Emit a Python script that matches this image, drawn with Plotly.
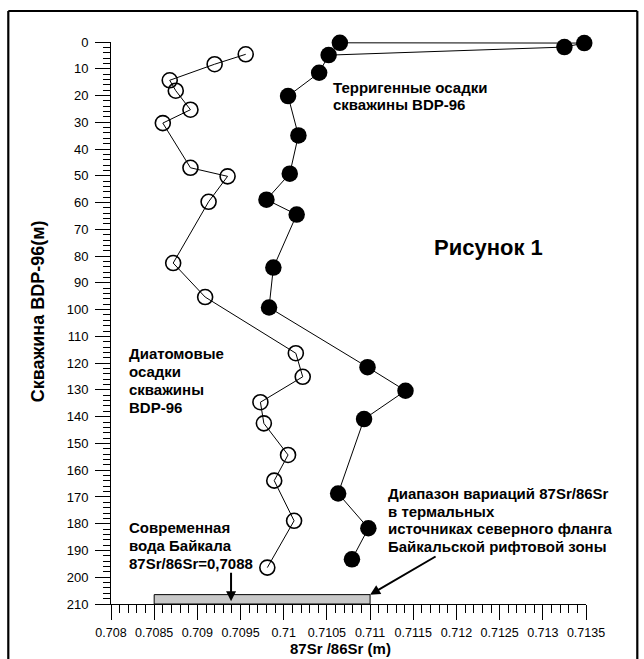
import plotly.graph_objects as go

# ---- data ----
diatom_sr = [0.70956, 0.70920, 0.70868, 0.70875, 0.70892, 0.70860, 0.70892, 0.70935,
             0.70913, 0.70872, 0.70909, 0.71014, 0.71022, 0.70973, 0.70977, 0.71005,
             0.70989, 0.71012, 0.70981]
diatom_depth = [4.6, 8.3, 14.3, 18.2, 25.3, 30.3, 47.0, 50.2, 59.7, 82.6, 95.3,
                116.3, 125.1, 134.6, 142.5, 154.3, 163.9, 178.9, 196.4]

terr_sr = [0.71065, 0.71348, 0.71325, 0.71052, 0.71041, 0.71005, 0.71017, 0.71007,
           0.70980, 0.71015, 0.70988, 0.70983, 0.71097, 0.71141, 0.71093, 0.71063,
           0.71098, 0.71079]
terr_depth = [0.3, 0.4, 1.9, 4.9, 11.5, 20.2, 34.9, 49.2, 58.9, 64.5, 84.3, 99.2,
              121.5, 130.3, 140.9, 168.7, 181.7, 193.3]

thermal_range = [0.7085, 0.711]
thermal_depth = [206.5, 210]
baikal_arrow_sr = 0.70939

x_tickvals = [0.708, 0.7085, 0.709, 0.7095, 0.71, 0.7105, 0.711, 0.7115, 0.712,
              0.7125, 0.713, 0.7135]
x_ticktext = ["0.708", "0.7085", "0.709", "0.7095", "0.71", "0.7105", "0.711",
              "0.7115", "0.712", "0.7125", "0.713", "0.7135"]
y_tickvals = list(range(0, 211, 10))

# ---- layout geometry (pixels) ----
W_FIG, H_FIG = 644, 659
L, R, T, B = 110.7, 58.3, 42, 55
PW = W_FIG - L - R
PH = H_FIG - T - B
FONT = "Liberation Sans, Arial, sans-serif"


def px(xp):
    return (xp - L) / PW


def py(yp):
    return (H_FIG - B - yp) / PH


fig = go.Figure()

fig.add_trace(go.Scatter(
    x=diatom_sr, y=diatom_depth, mode="lines+markers",
    line=dict(color="black", width=1),
    marker=dict(symbol="circle-open", size=15, color="black", line=dict(width=1.6)),
    cliponaxis=False, showlegend=False))

fig.add_trace(go.Scatter(
    x=terr_sr, y=terr_depth, mode="lines+markers",
    line=dict(color="black", width=1),
    marker=dict(symbol="circle", size=16.5, color="black"),
    cliponaxis=False, showlegend=False))

# thermal springs range bar
fig.add_shape(type="rect", xref="x", yref="y",
              x0=thermal_range[0], x1=thermal_range[1],
              y0=thermal_depth[0], y1=thermal_depth[1],
              fillcolor="#c8c8c8", line=dict(color="black", width=1), layer="above")

# outer frame (drawn as separate edges)
for (x0, y0, x1, y1) in [(8, 11, 637, 11), (8, 11, 8, 700), (637, 11, 637, 700)]:
    fig.add_shape(type="line", xref="paper", yref="paper",
                  x0=px(x0), x1=px(x1), y0=py(y0), y1=py(y1),
                  line=dict(color="black", width=2.2))

annotations = []


def txt(s, x, y, size=15, anchor="left"):
    annotations.append(dict(text=s, xref="paper", yref="paper", x=px(x), y=py(y),
                            xanchor=anchor, yanchor="middle", showarrow=False,
                            font=dict(family=FONT, size=size, color="black")))


for i, s in enumerate(["<b>Терригенные осадки</b>", "<b>скважины BDP-96</b>"]):
    txt(s, 331, 87 + 17.5 * i)
txt("<b>Рисунок 1</b>", 432, 247, size=22)
for i, s in enumerate(["<b>Диатомовые</b>", "<b>осадки</b>", "<b>скважины</b>", "<b>BDP-96</b>"]):
    txt(s, 127, 353.5 + 18 * i)
for i, s in enumerate(["<b>Современная</b>", "<b>вода Байкала</b>", "<b>87Sr/86Sr=0,7088</b>"]):
    txt(s, 127, 527.5 + 18 * i)
for i, s in enumerate(["<b>Диапазон вариаций 87Sr/86Sr</b>", "<b>в термальных</b>",
                       "<b>источниках северного фланга</b>", "<b>Байкальской рифтовой зоны</b>"]):
    txt(s, 386, 493.5 + 17.6 * i)

# axis titles
annotations.append(dict(text="<b>87Sr /86Sr (m)</b>", xref="paper", yref="paper",
                        x=px(340), y=py(648.5), xanchor="center", yanchor="middle",
                        showarrow=False, font=dict(family=FONT, size=15, color="black")))
annotations.append(dict(text="<b>Скважина BDP-96(м)</b>", xref="paper", yref="paper",
                        x=px(38), y=py(311), xanchor="center", yanchor="middle",
                        textangle=-90, showarrow=False,
                        font=dict(family=FONT, size=18, color="black")))

# arrows
annotations.append(dict(text="", x=baikal_arrow_sr, y=209, xref="x", yref="y",
                        ax=0, ay=-30, showarrow=True, arrowhead=2, arrowsize=1,
                        arrowwidth=2, arrowcolor="black"))
annotations.append(dict(text="", x=thermal_range[1], y=thermal_depth[0], xref="x", yref="y",
                        ax=67, ay=-39, showarrow=True, arrowhead=2, arrowsize=1,
                        arrowwidth=2, arrowcolor="black"))

fig.update_layout(
    width=W_FIG, height=H_FIG,
    margin=dict(l=L, r=R, t=T, b=B, autoexpand=False),
    paper_bgcolor="white", plot_bgcolor="white",
    font=dict(family=FONT, size=13, color="black"),
    annotations=annotations,
    xaxis=dict(range=[0.708, 0.7135], tickvals=x_tickvals, ticktext=x_ticktext,
               showgrid=False, zeroline=False, showline=True, linecolor="black",
               linewidth=1, ticks="outside", ticklen=15, tickwidth=1, tickcolor="black",
               tickfont=dict(size=12.5), ticklabelstandoff=2,
               minor=dict(dtick=0.0001, ticks="outside", ticklen=8, tickwidth=1,
                          tickcolor="black", showgrid=False)),
    yaxis=dict(range=[210, 0], tickvals=y_tickvals,
               showgrid=False, zeroline=False, showline=True, linecolor="black",
               linewidth=1, ticks="outside", ticklen=15, tickwidth=1, tickcolor="black",
               tickfont=dict(size=13), ticklabelstandoff=4,
               minor=dict(dtick=2, ticks="outside", ticklen=7, tickwidth=1,
                          tickcolor="black", showgrid=False)),
)

fig.write_html("out.html", config={"displayModeBar": False},
               post_script="document.body.style.margin='0';document.body.style.overflow='hidden';")
